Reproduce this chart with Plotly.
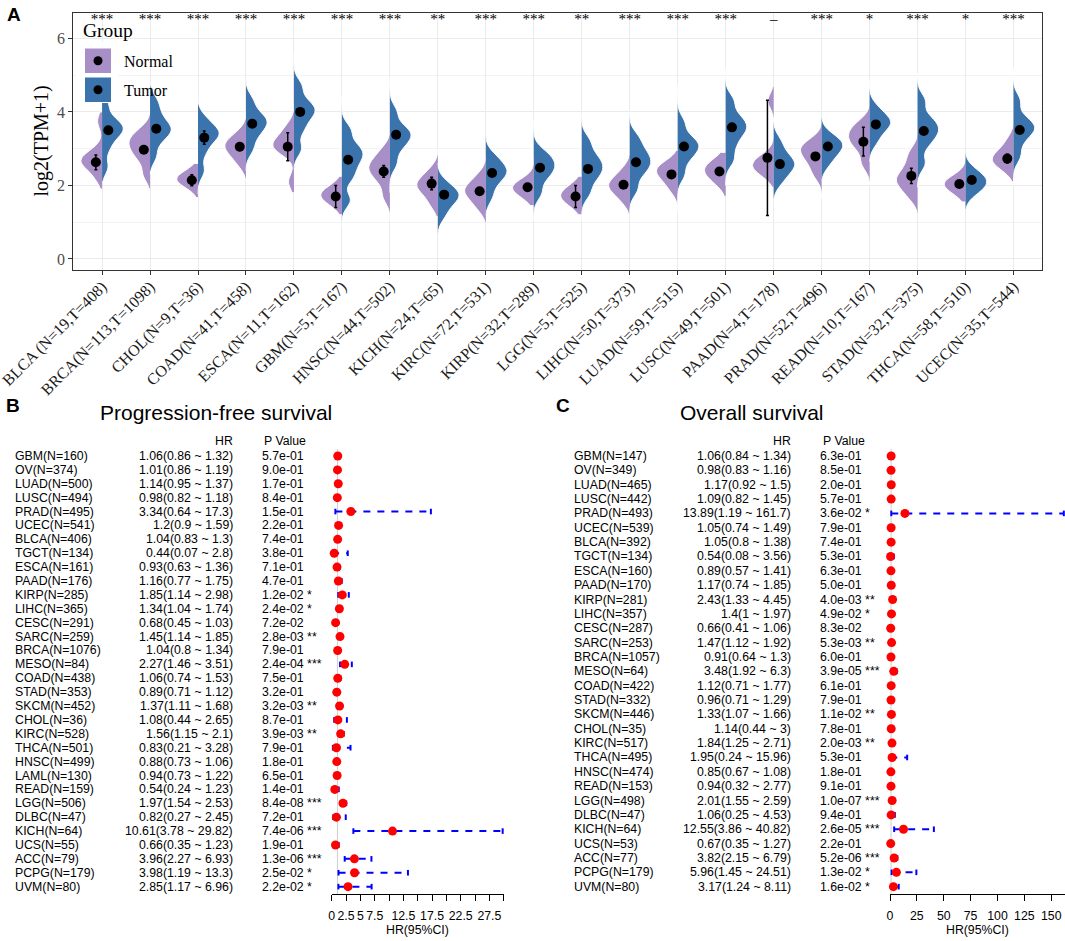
import plotly.graph_objects as go

W, H = 1065, 941


def px(x):
    return x / W


def py(y):
    return 1 - y / H


def fmt(v):
    return "{:g}".format(v)


# ---------------- panel A: expression in normal vs tumour ----------------
tick_labels = ["BLCA (N=19,T=408)", "BRCA(N=113,T=1098)", "CHOL(N=9,T=36)", "COAD(N=41,T=458)",
               "ESCA(N=11,T=162)", "GBM(N=5,T=167)", "HNSC(N=44,T=502)", "KICH(N=24,T=65)",
               "KIRC(N=72,T=531)", "KIRP(N=32,T=289)", "LGG(N=5,T=525)", "LIHC(N=50,T=373)",
               "LUAD(N=59,T=515)", "LUSC(N=49,T=501)", "PAAD(N=4,T=178)", "PRAD(N=52,T=496)",
               "READ(N=10,T=167)", "STAD(N=32,T=375)", "THCA(N=58,T=510)", "UCEC(N=35,T=544)"]
signif = ["***", "***", "***", "***", "***", "***", "***", "**", "***", "***",
          "**", "***", "***", "***", "–", "***", "*", "***", "*", "***"]

normal_samples = [
    [2.2, 2.45, 2.6, 2.65, 2.7, 2.8, 2.95, 3.75], [2.3, 2.7, 2.9, 3.05, 3.2, 3.3, 3.5],
    [2.0, 2.1, 2.15, 2.2, 2.25, 2.35], [2.6, 2.85, 3.0, 3.1, 3.2, 3.4],
    [2.1, 2.9, 3.0, 3.1, 3.2, 3.35, 3.6], [1.5, 1.65, 1.75, 1.8, 1.95],
    [1.7, 2.1, 2.3, 2.45, 2.55, 2.7, 2.95], [1.5, 1.8, 1.95, 2.05, 2.15, 2.4],
    [1.4, 1.65, 1.8, 1.9, 2.0, 2.25], [1.7, 1.85, 1.95, 2.0, 2.1],
    [1.45, 1.6, 1.7, 1.75, 1.85, 2.0], [1.6, 1.85, 1.95, 2.05, 2.15, 2.4],
    [1.9, 2.15, 2.3, 2.4, 2.5, 2.6], [2.05, 2.25, 2.35, 2.45, 2.55, 2.7],
    [2.3, 2.45, 2.55, 2.65, 2.8, 4.3], [2.3, 2.6, 2.8, 2.95, 3.05, 3.2],
    [2.6, 3.0, 3.2, 3.35, 3.5, 3.7], [1.7, 1.95, 2.1, 2.2, 2.35, 2.6, 2.9],
    [1.8, 1.95, 2.05, 2.1, 2.2], [2.45, 2.6, 2.7, 2.8, 2.9, 3.2]]
normal_span = [[1.9, 4.0], [1.9, 3.95], [1.67, 2.6], [2.15, 4.0], [1.8, 4.2], [1.2, 2.25],
               [1.05, 3.4], [1.15, 3.0], [0.97, 2.8], [1.45, 2.75], [1.2, 2.25], [1.2, 2.85],
               [1.25, 2.95], [1.7, 2.9], [1.95, 4.7], [1.65, 3.7], [2.0, 4.2], [1.2, 3.5],
               [1.55, 2.9], [2.1, 3.65]]
tumor_samples = [
    [2.5, 3.0, 3.3, 3.45, 3.55, 3.65, 3.8, 4.2], [2.8, 3.2, 3.4, 3.5, 3.6, 3.75, 4.0, 4.3],
    [2.4, 2.9, 3.2, 3.35, 3.45, 3.55, 3.8], [3.0, 3.35, 3.55, 3.7, 3.8, 3.95, 4.3],
    [3.0, 3.5, 3.8, 4.0, 4.1, 4.3, 4.7], [1.6, 2.2, 2.5, 2.75, 2.9, 3.1, 3.5],
    [2.6, 3.0, 3.2, 3.35, 3.45, 3.6, 4.0], [1.2, 1.5, 1.65, 1.75, 1.85, 2.05],
    [1.7, 2.05, 2.25, 2.35, 2.45, 2.6, 2.8], [1.8, 2.2, 2.4, 2.55, 2.7, 2.9],
    [1.8, 2.15, 2.35, 2.5, 2.65, 2.85, 3.2], [1.9, 2.3, 2.5, 2.65, 2.8, 3.0, 3.3],
    [2.3, 2.7, 2.9, 3.05, 3.15, 3.3, 3.7], [2.7, 3.1, 3.4, 3.55, 3.7, 3.9, 4.3],
    [2.1, 2.35, 2.5, 2.6, 2.7, 2.9, 3.2], [2.6, 2.85, 3.0, 3.1, 3.2, 3.35],
    [3.2, 3.5, 3.65, 3.75, 3.85, 4.1], [2.6, 3.1, 3.35, 3.5, 3.65, 3.85, 4.3],
    [1.8, 1.95, 2.05, 2.15, 2.25, 2.4], [2.8, 3.2, 3.45, 3.55, 3.65, 3.85, 4.3]]
tumor_span = [[2.1, 4.7], [2.3, 4.8], [1.76, 4.45], [2.4, 4.9], [2.45, 5.6], [0.87, 4.45],
              [1.8, 4.95], [0.7, 2.6], [1.2, 3.35], [1.05, 3.8], [1.05, 3.95], [1.2, 4.0],
              [1.35, 4.75], [2.0, 5.2], [1.65, 3.75], [2.15, 3.85], [2.65, 4.85], [1.95, 5.05],
              [1.35, 2.9], [2.0, 5.2]]

normal_mean = [2.63, 2.97, 2.14, 3.05, 3.05, 1.70, 2.38, 2.05, 1.84, 1.95,
               1.70, 2.02, 2.30, 2.38, 2.75, 2.79, 3.19, 2.26, 2.04, 2.73]
normal_err = [0.20, 0.05, 0.15, 0.10, 0.38, 0.30, 0.16, 0.17, 0.05, 0.09,
              0.30, 0.06, 0.07, 0.07, 1.57, 0.10, 0.39, 0.21, 0.04, 0.12]
tumor_mean = [3.50, 3.54, 3.30, 3.68, 4.00, 2.70, 3.38, 1.75, 2.34, 2.48,
              2.45, 2.63, 3.06, 3.58, 2.58, 3.06, 3.66, 3.48, 2.15, 3.51]
tumor_err = [0.03, 0.03, 0.18, 0.04, 0.06, 0.05, 0.04, 0.10, 0.03, 0.04,
             0.03, 0.04, 0.03, 0.04, 0.04, 0.03, 0.06, 0.04, 0.02, 0.03]

# ---------------- panel B: progression-free survival ----------------
pfs_labels = ["GBM(N=160)", "OV(N=374)", "LUAD(N=500)", "LUSC(N=494)", "PRAD(N=495)", "UCEC(N=541)",
              "BLCA(N=406)", "TGCT(N=134)", "ESCA(N=161)", "PAAD(N=176)", "KIRP(N=285)", "LIHC(N=365)",
              "CESC(N=291)", "SARC(N=259)", "BRCA(N=1076)", "MESO(N=84)", "COAD(N=438)", "STAD(N=353)",
              "SKCM(N=452)", "CHOL(N=36)", "KIRC(N=528)", "THCA(N=501)", "HNSC(N=499)", "LAML(N=130)",
              "READ(N=159)", "LGG(N=506)", "DLBC(N=47)", "KICH(N=64)", "UCS(N=55)", "ACC(N=79)",
              "PCPG(N=179)", "UVM(N=80)"]
pfs_hr = [1.06, 1.01, 1.14, 0.98, 3.34, 1.2, 1.04, 0.44, 0.93, 1.16, 1.85, 1.34, 0.68, 1.45, 1.04, 2.27,
          1.06, 0.89, 1.37, 1.08, 1.56, 0.83, 0.88, 0.94, 0.54, 1.97, 0.82, 10.61, 0.66, 3.96, 3.98, 2.85]
pfs_lo = [0.86, 0.86, 0.95, 0.82, 0.64, 0.9, 0.83, 0.07, 0.63, 0.77, 1.14, 1.04, 0.45, 1.14, 0.8, 1.46,
          0.74, 0.71, 1.11, 0.44, 1.15, 0.21, 0.73, 0.73, 0.24, 1.54, 0.27, 3.78, 0.35, 2.27, 1.19, 1.17]
pfs_hi = [1.32, 1.19, 1.37, 1.18, 17.3, 1.59, 1.3, 2.8, 1.36, 1.75, 2.98, 1.74, 1.03, 1.85, 1.34, 3.51,
          1.53, 1.12, 1.68, 2.65, 2.1, 3.28, 1.06, 1.22, 1.23, 2.53, 2.45, 29.82, 1.23, 6.93, 13.3, 6.96]
pfs_p = [5.7e-01, 9.0e-01, 1.7e-01, 8.4e-01, 1.5e-01, 2.2e-01, 7.4e-01, 3.8e-01, 7.1e-01, 4.7e-01,
         1.2e-02, 2.4e-02, 7.2e-02, 2.8e-03, 7.9e-01, 2.4e-04, 7.5e-01, 3.2e-01, 3.2e-03, 8.7e-01,
         3.9e-03, 7.9e-01, 1.8e-01, 6.5e-01, 1.4e-01, 8.4e-08, 7.2e-01, 7.4e-06, 1.9e-01, 1.3e-06,
         2.5e-02, 2.2e-02]
pfs_sig = ["", "", "", "", "", "", "", "", "", "", "*", "*", "", "**", "", "***",
           "", "", "**", "", "**", "", "", "", "", "***", "", "***", "", "***", "*", "*"]
pfs_ticks = [0, 2.5, 5, 7.5, 10, 12.5, 15, 17.5, 20, 22.5, 25, 27.5, 30]
pfs_ticktext = ["0", "2.5", "5", "7.5", "", "12.5", "", "17.5", "", "22.5", "", "27.5", ""]

# ---------------- panel C: overall survival ----------------
os_labels = ["GBM(N=147)", "OV(N=349)", "LUAD(N=465)", "LUSC(N=442)", "PRAD(N=493)", "UCEC(N=539)",
             "BLCA(N=392)", "TGCT(N=134)", "ESCA(N=160)", "PAAD(N=170)", "KIRP(N=281)", "LIHC(N=357)",
             "CESC(N=287)", "SARC(N=253)", "BRCA(N=1057)", "MESO(N=64)", "COAD(N=422)", "STAD(N=332)",
             "SKCM(N=446)", "CHOL(N=35)", "KIRC(N=517)", "THCA(N=495)", "HNSC(N=474)", "READ(N=153)",
             "LGG(N=498)", "DLBC(N=47)", "KICH(N=64)", "UCS(N=53)", "ACC(N=77)", "PCPG(N=179)", "UVM(N=80)"]
os_hr = [1.06, 0.98, 1.17, 1.09, 13.89, 1.05, 1.05, 0.54, 0.89, 1.17, 2.43, 1.4, 0.66, 1.47, 0.91, 3.48,
         1.12, 0.96, 1.33, 1.14, 1.84, 1.95, 0.85, 0.94, 2.01, 1.06, 12.55, 0.67, 3.82, 5.96, 3.17]
os_lo = [0.84, 0.83, 0.92, 0.82, 1.19, 0.74, 0.8, 0.08, 0.57, 0.74, 1.33, 1, 0.41, 1.12, 0.64, 1.92,
         0.71, 0.71, 1.07, 0.44, 1.25, 0.24, 0.67, 0.32, 1.55, 0.25, 3.86, 0.35, 2.15, 1.45, 1.24]
os_hi = [1.34, 1.16, 1.5, 1.45, 161.7, 1.49, 1.38, 3.56, 1.41, 1.85, 4.45, 1.97, 1.06, 1.92, 1.3, 6.3,
         1.77, 1.29, 1.66, 3, 2.71, 15.96, 1.08, 2.77, 2.59, 4.53, 40.82, 1.27, 6.79, 24.51, 8.11]
os_p = [6.3e-01, 8.5e-01, 2.0e-01, 5.7e-01, 3.6e-02, 7.9e-01, 7.4e-01, 5.3e-01, 6.3e-01, 5.0e-01,
        4.0e-03, 4.9e-02, 8.3e-02, 5.3e-03, 6.0e-01, 3.9e-05, 6.1e-01, 7.9e-01, 1.1e-02, 7.8e-01,
        2.0e-03, 5.3e-01, 1.8e-01, 9.1e-01, 1.0e-07, 9.4e-01, 2.6e-05, 2.2e-01, 5.2e-06, 1.3e-02, 1.6e-02]
os_sig = ["", "", "", "", "*", "", "", "", "", "", "**", "*", "", "**", "", "***",
          "", "", "**", "", "**", "", "", "", "***", "", "***", "", "***", "*", "*"]
os_ticks = [0, 25, 50, 75, 100, 125, 150, 175]

PURPLE = "#A98FC8"
BLUE = "#3B73AD"
SERIF = "Liberation Serif"
SANS = "Liberation Sans"

fig = go.Figure()

# split violins + mean dots
for i in range(len(tick_labels)):
    pos = i + 1
    fig.add_trace(go.Violin(y=normal_samples[i], x0=pos, side="negative", width=0.88,
                            scalemode="width", spanmode="manual", span=normal_span[i],
                            bandwidth=0.2, points=False, fillcolor=PURPLE, opacity=1,
                            line=dict(color="white", width=1), hoverinfo="skip",
                            xaxis="x", yaxis="y"))
    fig.add_trace(go.Violin(y=tumor_samples[i], x0=pos, side="positive", width=0.88,
                            scalemode="width", spanmode="manual", span=tumor_span[i],
                            bandwidth=0.2, points=False, fillcolor=BLUE, opacity=1,
                            line=dict(color="white", width=1), hoverinfo="skip",
                            xaxis="x", yaxis="y"))

positions = [i + 1 for i in range(len(tick_labels))]
fig.add_trace(go.Scatter(x=[p - 0.13 for p in positions], y=normal_mean, mode="markers",
                         marker=dict(color="black", size=10),
                         error_y=dict(type="data", array=normal_err, color="black", thickness=1.5, width=1.5),
                         xaxis="x", yaxis="y", cliponaxis=False))
fig.add_trace(go.Scatter(x=[p + 0.13 for p in positions], y=tumor_mean, mode="markers",
                         marker=dict(color="black", size=10),
                         error_y=dict(type="data", array=tumor_err, color="black", thickness=1.5, width=1.5),
                         xaxis="x", yaxis="y", cliponaxis=False))
fig.add_trace(go.Scatter(x=positions, y=[6.48] * len(positions), mode="text", text=signif,
                         textfont=dict(family=SERIF, size=15, color="black"),
                         xaxis="x", yaxis="y", cliponaxis=False))


def forest(hr, lo, hi, xa, ya):
    cx, cy, ex, ey = [], [], [], []
    for i in range(len(hr)):
        cx += [lo[i], hi[i], None]
        cy += [i, i, None]
        ex += [lo[i], hi[i]]
        ey += [i, i]
    fig.add_trace(go.Scatter(x=cx, y=cy, mode="lines", xaxis=xa, yaxis=ya,
                             line=dict(color="#0000FF", width=2, dash="7px,7px")))
    fig.add_trace(go.Scatter(x=ex, y=ey, mode="markers", xaxis=xa, yaxis=ya, cliponaxis=False,
                             marker=dict(symbol="line-ns", size=4, line=dict(color="#0000FF", width=2))))
    fig.add_trace(go.Scatter(x=hr, y=list(range(len(hr))), mode="markers", xaxis=xa, yaxis=ya,
                             cliponaxis=False, marker=dict(color="#FF0000", size=9)))


forest(pfs_hr, pfs_lo, pfs_hi, "x2", "y2")
forest(os_hr, os_lo, os_hi, "x3", "y3")

ann = []


def text(t, x, y, yref="paper", xanchor="left", size=12.3, family=SANS, **kw):
    ann.append(dict(text=t, x=x, y=y, xref="paper", yref=yref, xanchor=xanchor, yanchor="middle",
                    showarrow=False, font=dict(family=family, size=size, color="black"), **kw))


# panel A texts
text("<b>A</b>", px(5), py(14), size=19)
text("log2(TPM+1)", px(41), py(141.5), xanchor="center", size=20, family=SERIF, textangle=-90)
text("Group", px(81), py(31), size=19.5, family=SERIF)
text("Normal", px(122), py(61), size=16, family=SERIF)
text("Tumor", px(122), py(90), size=16, family=SERIF)

# tables
text("<b>B</b>", px(4), py(405), size=19)
text("Progression-free survival", px(216), py(412), xanchor="center", size=21)
text("HR", px(234.5), -1.08, "y2", "right")
text("P Value", px(262), -1.08, "y2")
for i in range(len(pfs_labels)):
    text(pfs_labels[i], px(13), i, "y2")
    text("%s(%s ~ %s)" % (fmt(pfs_hr[i]), fmt(pfs_lo[i]), fmt(pfs_hi[i])), px(234.5), i, "y2", "right")
    text(("%.1e %s" % (pfs_p[i], pfs_sig[i])).rstrip(), px(260), i, "y2")
text("HR(95%CI)", px(417.7), py(930), xanchor="center")

text("<b>C</b>", px(554), py(405), size=19)
text("Overall survival", px(752), py(412), xanchor="center", size=21)
text("HR", px(792.5), -1.05, "y3", "right")
text("P Value", px(821), -1.05, "y3")
for i in range(len(os_labels)):
    text(os_labels[i], px(572), i, "y3")
    text("%s(%s ~ %s)" % (fmt(os_hr[i]), fmt(os_lo[i]), fmt(os_hi[i])), px(792.5), i, "y3", "right")
    text(("%.1e %s" % (os_p[i], os_sig[i])).rstrip(), px(818), i, "y3")
text("HR(95%CI)", px(977), py(930), xanchor="center")

shapes = [
    # legend background and keys (drawn over the panel like ggplot's inside legend)
    dict(type="rect", xref="paper", yref="paper", x0=px(76), x1=px(118), y0=py(103), y1=py(42),
         fillcolor="white", line=dict(width=0), layer="above"),
    dict(type="rect", xref="paper", yref="paper", x0=px(85), x1=px(111), y0=py(73), y1=py(48.5),
         fillcolor=PURPLE, line=dict(width=0), layer="above"),
    dict(type="rect", xref="paper", yref="paper", x0=px(85), x1=px(111), y0=py(102), y1=py(77.5),
         fillcolor=BLUE, line=dict(width=0), layer="above"),
    dict(type="circle", xref="paper", yref="paper", x0=px(93.5), x1=px(102.5), y0=py(65.2), y1=py(56.2),
         fillcolor="black", line=dict(width=0), layer="above"),
    dict(type="circle", xref="paper", yref="paper", x0=px(93.5), x1=px(102.5), y0=py(94.2), y1=py(85.2),
         fillcolor="black", line=dict(width=0), layer="above"),
    # HR = 1 reference lines
    dict(type="line", xref="x2", yref="y2", x0=1, x1=1, y0=-0.5, y1=31.53,
         line=dict(color="#CFCFCF", width=1), layer="below"),
    dict(type="line", xref="x3", yref="y3", x0=1, x1=1, y0=-0.5, y1=30.51,
         line=dict(color="#CFCFCF", width=1), layer="below"),
]

forest_x = dict(showgrid=False, zeroline=False, showline=True, linecolor="black", linewidth=1,
                ticks="outside", ticklen=6, tickcolor="black", tickwidth=1, automargin=False,
                tickfont=dict(family=SANS, size=12.3, color="black"), ticklabelstandoff=4)

fig.update_layout(
    width=W, height=H, margin=dict(l=0, r=0, t=0, b=0),
    paper_bgcolor="white", plot_bgcolor="white", template="none",
    showlegend=False, violinmode="overlay", violingap=0, violingroupgap=0,
    font=dict(family=SERIF, color="black"),
    xaxis=dict(domain=[px(73.3), px(1042.3)], range=[0.4, 20.6], anchor="y",
               tickmode="array", tickvals=positions, ticktext=tick_labels, tickangle=-45,
               tickfont=dict(family=SERIF, size=16, color="#1A1A1A"),
               ticklabeloverflow="allow", ticklabelstandoff=-4,
               showgrid=True, gridcolor="#EBEBEB", gridwidth=1, zeroline=False,
               showline=True, mirror=True, linecolor="#333333", linewidth=1.2,
               ticks="outside", ticklen=4, tickcolor="#333333", automargin=False),
    yaxis=dict(domain=[py(270), py(13)], range=[-0.3, 6.69], anchor="x",
               tickmode="array", tickvals=[0, 2, 4, 6],
               tickfont=dict(family=SERIF, size=16, color="#4D4D4D"),
               showgrid=True, gridcolor="#EBEBEB", gridwidth=1, zeroline=False,
               minor=dict(tickmode="array", tickvals=[1, 3, 5], showgrid=True,
                          gridcolor="#F3F3F3", gridwidth=0.6, ticks=""),
               showline=True, mirror=True, linecolor="#333333", linewidth=1.2,
               ticks="outside", ticklen=4, tickcolor="#333333", automargin=False),
    xaxis2=dict(domain=[px(331.7), px(503.7)], range=[0, 30], anchor="y2",
                tickmode="array", tickvals=pfs_ticks, ticktext=pfs_ticktext, **forest_x),
    yaxis2=dict(domain=[py(894), py(400)], range=[31.53, -4.03], anchor="x2", visible=False),
    xaxis3=dict(domain=[px(890), 1], range=[0, 162.8], anchor="y3",
                tickmode="array", tickvals=os_ticks, **forest_x),
    yaxis3=dict(domain=[py(894), py(400)], range=[30.51, -3.90], anchor="x3", visible=False),
    annotations=ann,
    shapes=shapes,
)

# the page body has a default 8px margin; drop it so the figure sits at the window origin
fig.write_html("out.html", config={"displayModeBar": False},
               post_script="document.body.style.margin='0px';")
